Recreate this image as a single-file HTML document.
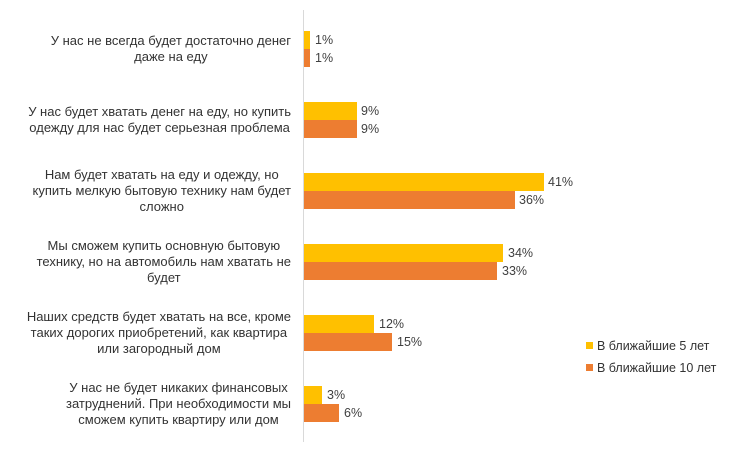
<!DOCTYPE html>
<html><head><meta charset="utf-8"><style>
body{margin:0;width:736px;height:460px;background:#fff;font-family:"Liberation Sans",sans-serif;color:#333;position:relative;overflow:hidden}
.l{position:absolute;right:445px;text-align:center;font-size:13px;line-height:16px;transform:translateY(-50%);white-space:nowrap}
.b{position:absolute;left:304px;height:18px}
.y{background:#FFC000}.o{background:#ED7D31}
.v{position:absolute;font-size:12.5px;color:#404040;line-height:18px}
.ax{position:absolute;left:303px;top:10px;width:1px;height:432px;background:#d9d9d9}
.lg{position:absolute;left:586px;font-size:12.5px}
.lg i{display:inline-block;width:7px;height:7px;margin-right:4px;vertical-align:1px}
</style></head><body>
<div class="ax"></div>

<div class="l" style="top:49px">У нас не всегда будет достаточно денег<br>даже на еду</div>
<div class="l" style="top:120px">У нас будет хватать денег на еду, но купить<br>одежду для нас будет серьезная проблема</div>
<div class="l" style="top:191px">Нам будет хватать на еду и одежду, но<br>купить мелкую бытовую технику нам будет<br>сложно</div>
<div class="l" style="top:262px">Мы сможем купить основную бытовую<br>технику, но на автомобиль нам хватать не<br>будет</div>
<div class="l" style="top:333px">Наших средств будет хватать на все, кроме<br>таких дорогих приобретений, как квартира<br>или загородный дом</div>
<div class="l" style="top:404px">У нас не будет никаких финансовых<br>затруднений. При необходимости мы<br>сможем купить квартиру или дом</div>

<div class="b y" style="top:31px;width:6px"></div><div class="v" style="top:31px;left:315px">1%</div>
<div class="b o" style="top:49px;width:6px"></div><div class="v" style="top:49px;left:315px">1%</div>
<div class="b y" style="top:102px;width:53px"></div><div class="v" style="top:102px;left:361px">9%</div>
<div class="b o" style="top:120px;width:53px"></div><div class="v" style="top:120px;left:361px">9%</div>
<div class="b y" style="top:173px;width:240px"></div><div class="v" style="top:173px;left:548px">41%</div>
<div class="b o" style="top:191px;width:211px"></div><div class="v" style="top:191px;left:519px">36%</div>
<div class="b y" style="top:244px;width:199px"></div><div class="v" style="top:244px;left:508px">34%</div>
<div class="b o" style="top:262px;width:193px"></div><div class="v" style="top:262px;left:502px">33%</div>
<div class="b y" style="top:315px;width:70px"></div><div class="v" style="top:315px;left:379px">12%</div>
<div class="b o" style="top:333px;width:88px"></div><div class="v" style="top:333px;left:397px">15%</div>
<div class="b y" style="top:386px;width:18px"></div><div class="v" style="top:386px;left:327px">3%</div>
<div class="b o" style="top:404px;width:35px"></div><div class="v" style="top:404px;left:344px">6%</div>

<div class="lg" style="top:339px"><i class="y"></i>В ближайшие 5 лет</div>
<div class="lg" style="top:361px"><i class="o"></i>В ближайшие 10 лет</div>
</body></html>
